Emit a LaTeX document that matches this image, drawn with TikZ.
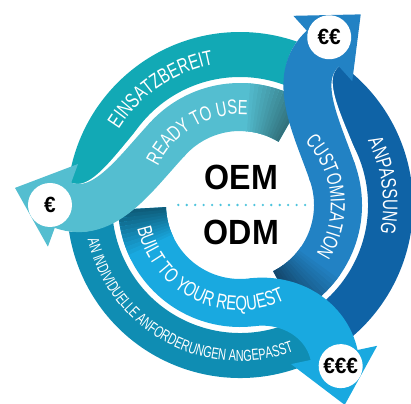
\documentclass[tikz,border=0pt]{standalone}
\usepackage{fontspec}
\setmainfont{Liberation Sans}
\newfontfamily\bandfont[FakeStretch=0.72]{Liberation Sans}
\newfontfamily\bandfontn[FakeStretch=0.68]{Liberation Sans}
\newfontfamily\oemfont[FakeStretch=0.92]{Liberation Sans}
\newfontfamily\eurofont[FakeStretch=0.95]{Liberation Sans}
\usetikzlibrary{decorations.text}
\definecolor{cTeal}{HTML}{12A9B5}
\definecolor{cReady}{HTML}{54BED0}
\definecolor{cCust}{HTML}{2282C4}
\definecolor{cAnp}{HTML}{0F63A6}
\definecolor{cBuilt}{HTML}{19A9E0}
\definecolor{cAn}{HTML}{0F8DB3}
\definecolor{cDot}{HTML}{4CC3DC}
\newcommand{\arctext}[6]{%
  \path[decorate,decoration={text along path,text align=center,text color=white,
    text={|#6\fontsize{#4}{#4}\selectfont|#5}}]
    (#2:#1) arc[start angle=#2,end angle=#3,radius=#1];}
\begin{document}
\begin{tikzpicture}[x=1pt,y=1pt,
  outerband/.style={line width=45pt},
  innerband/.style={line width=48pt},
  eurotext/.style={font=\eurofont\bfseries\fontsize{22}{22}\selectfont,text=black,inner sep=0pt},
  bigtext/.style={font=\oemfont\bfseries\fontsize{35}{35}\selectfont,text=black,inner sep=0pt}]
\useasboundingbox (-240,-198) rectangle (171,205);

% outer bands
\draw[outerband,cTeal] (181:150.5) arc[start angle=181,end angle=62,radius=150.5];
\draw[outerband,cAnp] (62:150.5) arc[start angle=62,end angle=-55,radius=150.5];
\draw[outerband,cAn] (-60:150.5) arc[start angle=-60,end angle=-177,radius=150.5];

% white gaps following the swooshes
\begin{scope}[rotate=0]
  \draw[innerband,white] (137:103) .. controls +(227:50) and +(340:45) .. (180:178);
\end{scope}
\begin{scope}[rotate=-118]
  \draw[innerband,white] (137:103) .. controls +(227:50) and +(340:45) .. (180:178);
\end{scope}

% inner bands
\draw[innerband,cReady] (59:98) arc[start angle=59,end angle=139,radius=98];
\draw[innerband,cCust] (-63:98) arc[start angle=-63,end angle=21,radius=98];
\draw[innerband,cBuilt] (182:98) arc[start angle=182,end angle=279,radius=98];

% shadows where the bands pass under
\foreach \i in {0,...,13}{
  \pgfmathtruncatemacro\p{60+40*\i/13}
  \pgfmathsetmacro\a{59+2*\i}
  \draw[innerband,cReady!\p!black] (\a:98) arc[start angle=\a,end angle=\a+2.4,radius=98];
}
\foreach \i in {0,...,13}{
  \pgfmathtruncatemacro\p{55+45*\i/13}
  \pgfmathsetmacro\a{-63+2*\i}
  \draw[innerband,cCust!\p!black] (\a:98) arc[start angle=\a,end angle=\a+2.4,radius=98];
}
\foreach \i in {0,...,11}{
  \pgfmathtruncatemacro\p{55+45*\i/11}
  \pgfmathsetmacro\a{182+2*\i}
  \draw[innerband,cBuilt!\p!black] (\a:98) arc[start angle=\a,end angle=\a+2.4,radius=98];
}

% swooshes with arrowheads
\begin{scope}[rotate=0]
  \draw[innerband,cReady] (137:98) .. controls +(227:50) and +(340:45) .. (180:178);
  \fill[cReady] (-162.0,41.0) -- (-224.98,17.10) -- (-192.1,-41.7) -- cycle;
  \fill[white] (180:190) circle[radius=22];
  \node[eurotext] (e1) at (180:190) {€};
\end{scope}
\begin{scope}[rotate=-118]
  \draw[innerband,cCust] (137:98) .. controls +(227:50) and +(340:45) .. (180:178);
  \fill[cCust] (-162.0,41.0) -- (-224.98,17.10) -- (-192.1,-41.7) -- cycle;
  \fill[white] (180:190) circle[radius=22];
  \node[eurotext] (e2) at (180:190) {€€};
\end{scope}
\begin{scope}[rotate=122]
  \draw[innerband,cBuilt] (155:98) .. controls +(245:38) and +(340:38) .. (180:178);
  \fill[cBuilt] (-162.0,41.0) -- (-224.98,17.10) -- (-192.1,-41.7) -- cycle;
  \fill[white] (180:190) circle[radius=22];
  \node[eurotext] (e3) at (180:190) {€€€};
\end{scope}

% band texts
\arctext{143}{194.3}{54.3}{21}{EINSATZBEREIT}{\bandfont}
\arctext{90.7}{190}{50}{20.5}{READY TO USE}{\bandfont}
\arctext{90.7}{75.85}{-64.15}{20.5}{CUSTOMIZATION}{\bandfont}
\arctext{105.3}{174}{314}{20.5}{BUILT TO YOUR REQUEST}{\bandfont}
\arctext{143}{77.6}{-62.4}{21}{ANPASSUNG}{\bandfont}
\arctext{156.2}{166.5}{316.5}{16}{AN INDIVIDUELLE ANFORDERUNGEN ANGEPASST}{\bandfontn}

% centre
\node[bigtext] (oem) at (1.5,27.5) {OEM};
\node[bigtext] (odm) at (1.5,-27.5) {ODM};
\foreach \i in {0,...,15}{
  \fill[cDot] ({-61.7+\i*8.45},0) circle[radius=1.3];
}
\end{tikzpicture}
\end{document}
